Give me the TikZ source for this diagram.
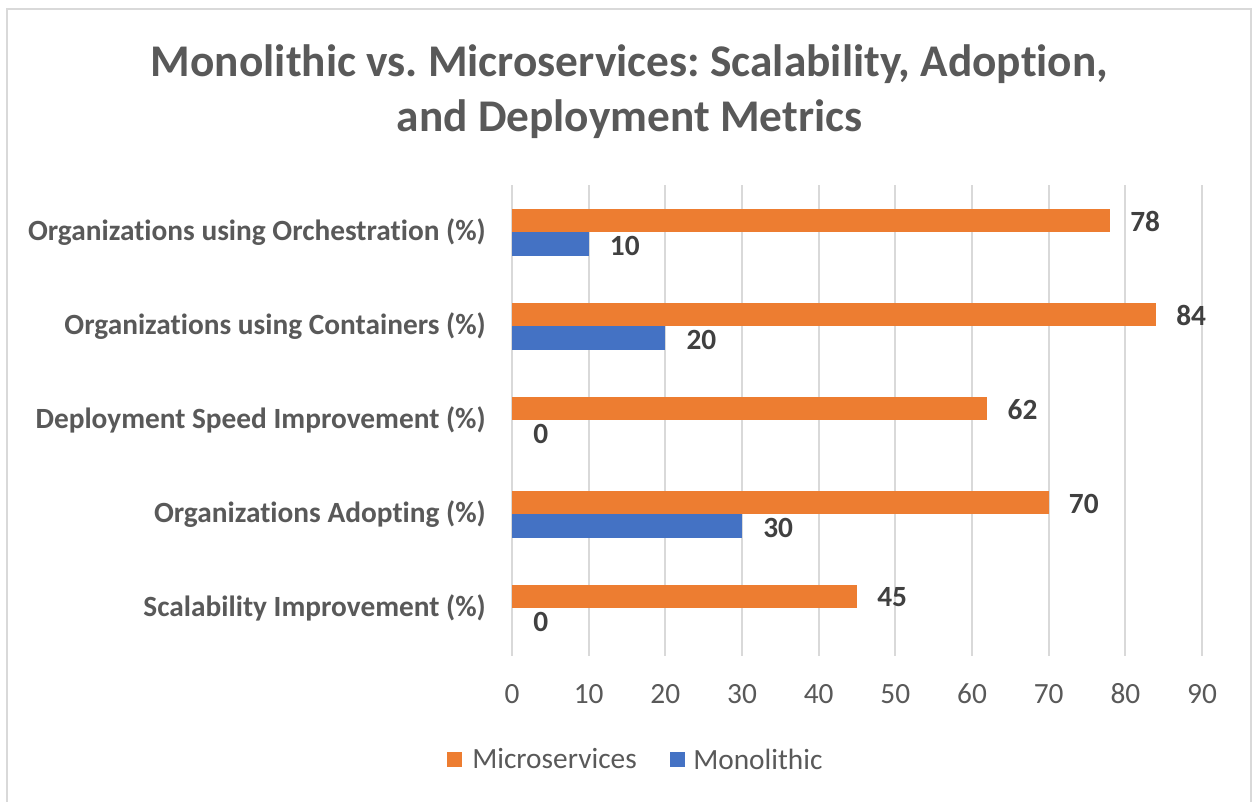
\documentclass[tikz,border=0pt]{standalone}
\usepackage{fontspec}
\setmainfont[RawFeature={-liga;-clig;-calt;-dlig}]{Carlito}
\frenchspacing
\usetikzlibrary{positioning}
\definecolor{cmicro}{RGB}{237,125,49}
\definecolor{cmono}{RGB}{68,114,196}
\definecolor{cgrid}{RGB}{217,217,217}
\definecolor{ctext}{RGB}{89,89,89}
\definecolor{cval}{RGB}{64,64,64}
\newcommand{\pxfont}[1]{\fontsize{#1}{#1}\selectfont}
\newcommand{\valx}[1]{512+7.667*#1}

\begin{document}
\begin{tikzpicture}[x=0.75pt,y=-0.75pt,
    titlelab/.style={anchor=base,text=ctext,font=\pxfont{34}\bfseries,inner sep=0pt},
    catlab/.style={anchor=base east,text=ctext,font=\pxfont{22}\bfseries,inner sep=0pt},
    vallab/.style={anchor=west,text=cval,font=\pxfont{22}\bfseries,inner sep=0pt},
    ticklab/.style={text=ctext,font=\pxfont{22},inner sep=0pt},
    leglab/.style={anchor=west,text=ctext,font=\pxfont{22},inner sep=0pt},
    gridline/.style={cgrid,line width=1.5pt}]
        \useasboundingbox (0,0) rectangle (1253,801);
        \fill[white] (0,0) rectangle (1253,801);
        % chart frame
        \draw[cgrid,line width=1.5pt] (7,806) -- (7,9) -- (1251,9) -- (1251,806);
        % title
        \node[titlelab] (title1) at (629.5,76) {Monolithic vs. Microservices: Scalability, Adoption,};
        \node[titlelab] (title2) at (629.5,131) {and Deployment Metrics};
        % grid and x ticks
        \foreach \k in {0,...,9} {
          \draw[gridline] ({512+76.67*\k},185) -- ({512+76.67*\k},656);
          \node[ticklab] (tick\k) at ({512+76.67*\k},694) {\pgfmathparse{int(10*\k)}\pgfmathresult};
        }
        % bars: index / label / microservices / monolithic
        \foreach \i/\cat/\mic/\mon in {
            0/Organizations using Orchestration (\%)/78/10,
            1/Organizations using Containers (\%)/84/20,
            2/Deployment Speed Improvement (\%)/62/0,
            3/Organizations Adopting (\%)/70/30,
            4/Scalability Improvement (\%)/45/0} {
          \pgfmathsetmacro{\c}{232+94*\i}
          \node[catlab] (cat\i) at (486,{\c+8}) {\cat};
          \fill[cmicro] (512,{\c-23.5}) rectangle ({\valx{\mic}},\c);
          \ifnum\mon>0
            \fill[cmono] (512,\c) rectangle ({\valx{\mon}},{\c+23.5});
          \fi
          \node[vallab] (mic\i) at ({\valx{\mic}+20},{\c-10.5}) {\mic};
          \node[vallab] (mon\i) at ({\valx{\mon}+21},{\c+13.5}) {\mon};
        }
        % legend
        \fill[cmicro] (447,752) rectangle (462,767);
        \node[leglab] (legmic) at (472,759) {Microservices};
        \fill[cmono] (670,752) rectangle (685,767);
        \node[leglab] (legmon) at (693,759) {Monolithic};
\end{tikzpicture}
\end{document}
